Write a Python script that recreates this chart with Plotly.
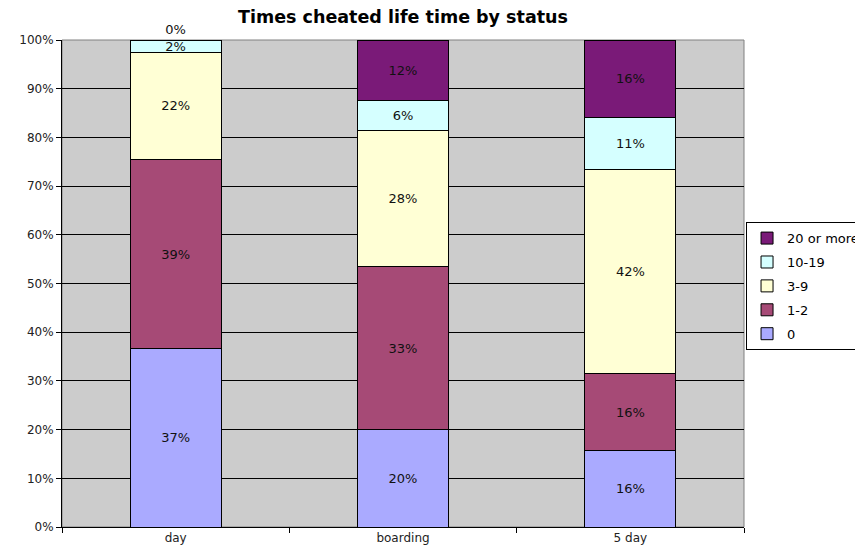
import plotly.graph_objects as go

categories = ["day", "boarding", "5 day"]
series_names = ["0", "1-2", "3-9", "10-19", "20 or more"]
v_0 = [36.6, 20.0, 15.7]
v_1_2 = [38.9, 33.4, 15.8]
v_3_9 = [22.0, 28.1, 42.0]
v_10_19 = [2.4, 6.1, 10.6]
v_20_more = [0.1, 12.4, 15.9]
y_ticks = [0, 10, 20, 30, 40, 50, 60, 70, 80, 90, 100]
y_tick_labels = ["0%", "10%", "20%", "30%", "40%", "50%", "60%", "70%", "80%", "90%", "100%"]

colors = ["#AAAAFF", "#A64A76", "#FFFFD5", "#D5FFFF", "#7A1A78"]
series_values = [v_0, v_1_2, v_3_9, v_10_19, v_20_more]

FONT = "DejaVu Sans"
fig = go.Figure()
n = len(series_names)
for i, (name, vals, col) in enumerate(zip(series_names, series_values, colors)):
    if name == "20 or more":
        tp = ["outside" if v < 1 else "inside" for v in vals]
    else:
        tp = "inside"
    fig.add_trace(go.Bar(
        x=categories, y=vals, name=name,
        marker=dict(color=col, line=dict(color="#000000", width=1)),
        texttemplate="%{y:.0f}%", textposition=tp,
        insidetextanchor="middle",
        textfont=dict(family=FONT, size=13, color="#111111"),
        cliponaxis=False, legendgroup=name, legendrank=(n - i) * 100,
        hoverinfo="x+y+name",
    ))

# the page body has an 8px margin, so the figure is sized and offset to compensate
fig.update_layout(
    barmode="stack", bargap=0.6,
    width=855, height=550,
    margin=dict(l=54, r=119, t=32, b=31, autoexpand=False),
    paper_bgcolor="#FFFFFF", plot_bgcolor="#CCCCCC",
    font=dict(family=FONT, size=12, color="#000000"),
    title=dict(text="<b>Times cheated life time by status</b>", x=0.462, xanchor="center",
               y=0.9836, yanchor="middle",
               font=dict(family=FONT, size=17.5, color="#000000")),
    uniformtext=dict(minsize=13, mode="show"),
    legend=dict(traceorder="grouped", x=1.003, xanchor="left", y=0.626, yanchor="top",
                bordercolor="#000000", borderwidth=1, bgcolor="#FFFFFF",
                font=dict(family=FONT, size=13, color="#000000"),
                tracegroupgap=4, itemwidth=30),
    showlegend=True,
)
fig.update_yaxes(range=[0, 100], tickmode="array", tickvals=y_ticks, ticktext=y_tick_labels,
                 showgrid=True, gridcolor="#000000", gridwidth=1,
                 showline=True, linecolor="#000000", linewidth=1,
                 ticks="outside", ticklen=5, tickcolor="#000000",
                 tickfont=dict(family=FONT, size=12, color="#222222"), zeroline=False)
fig.update_xaxes(showline=True, linecolor="#000000", linewidth=1,
                 ticks="outside", ticklen=5, tickcolor="#000000", tickson="boundaries",
                 tickfont=dict(family=FONT, size=12, color="#222222"))
fig.add_shape(type="rect", xref="paper", yref="paper", x0=0, x1=1, y0=0, y1=1,
              line=dict(color="#808080", width=1), layer="below")
fig.write_html("out.html")
